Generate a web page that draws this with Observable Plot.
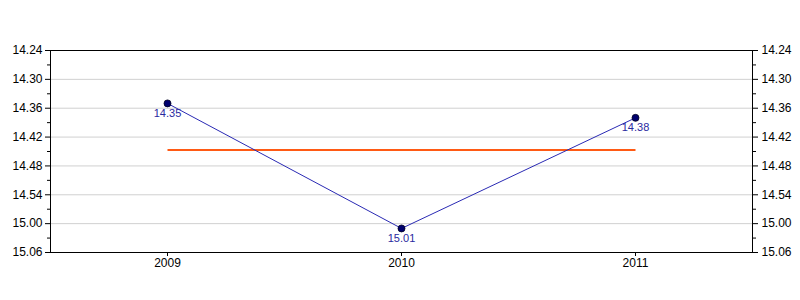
<!DOCTYPE html>
<html>
<head>
<meta charset="utf-8">
<script src="https://cdn.jsdelivr.net/npm/d3@7"></script>
<script src="https://cdn.jsdelivr.net/npm/@observablehq/plot@0.6"></script>
<style>
  html, body { margin: 0; padding: 0; background: #fff; }
  #chart svg { display: block; }
</style>
</head>
<body>
<div id="chart"></div>
<script>
// Data (times are minutes.seconds)
const years = ["2009", "2010", "2011"];
const times = ["14.35", "15.01", "14.38"];
const yTickLabels = ["14.24", "14.30", "14.36", "14.42", "14.48", "14.54", "15.00", "15.06"];
const yMinorLabels = ["14.27", "14.33", "14.39", "14.45", "14.51", "14.57", "15.03"];

const toSec = s => { const [m, ss] = s.split("."); return +m * 60 + +ss; };
const fmt = v => { const m = Math.floor(v / 60), s = Math.round(v - m * 60); return m + "." + String(s).padStart(2, "0"); };

const data = years.map((y, i) => ({ year: y, sec: toSec(times[i]), label: times[i] }));
const major = yTickLabels.map(toSec);
const minor = yMinorLabels.map(toSec);
const avg = d3.mean(data, d => d.sec);

const font = "'Liberation Sans', Arial, sans-serif";

const chart = Plot.plot({
  width: 800,
  height: 300,
  marginLeft: 50,
  marginRight: 48,
  marginTop: 50,
  marginBottom: 48,
  style: { fontFamily: font, fontSize: "12px", color: "#000", background: "#fff" },
  x: { type: "point", domain: years, padding: 0.5, label: null },
  y: { domain: [major[0], major[major.length - 1]], reverse: true, label: null },
  marks: [
    Plot.gridY(major, { stroke: "#d0d0d0", strokeOpacity: 1 }),
    Plot.axisY({ anchor: "left", ticks: major, tickFormat: fmt, tickSize: 5, tickPadding: 3, label: null, fontSize: 12 }),
    Plot.axisY({ anchor: "left", ticks: minor, tickFormat: () => "", tickSize: 3, label: null }),
    Plot.axisY({ anchor: "right", ticks: major, tickFormat: fmt, tickSize: 5, tickPadding: 4, label: null, fontSize: 12 }),
    Plot.axisY({ anchor: "right", ticks: minor, tickFormat: () => "", tickSize: 3, label: null }),
    Plot.axisX({ tickSize: 4, tickPadding: 2, label: null, fontSize: 12 }),
    Plot.frame({ stroke: "#000" }),
    Plot.link([avg], { x1: () => years[0], x2: () => years[years.length - 1], y1: d => d, y2: d => d, stroke: "#ff5a14", strokeWidth: 2 }),
    Plot.line(data, { x: "year", y: "sec", stroke: "#2a2ab4", strokeWidth: 1 }),
    Plot.dot(data, { x: "year", y: "sec", r: 3.5, fill: "#00006e", stroke: "#000020", strokeWidth: 0.8 }),
    Plot.text(data, { x: "year", y: "sec", text: "label", dy: 10, fill: "#2a2aa0", fontSize: 11 })
  ]
});

document.getElementById("chart").appendChild(chart);
</script>
</body>
</html>
